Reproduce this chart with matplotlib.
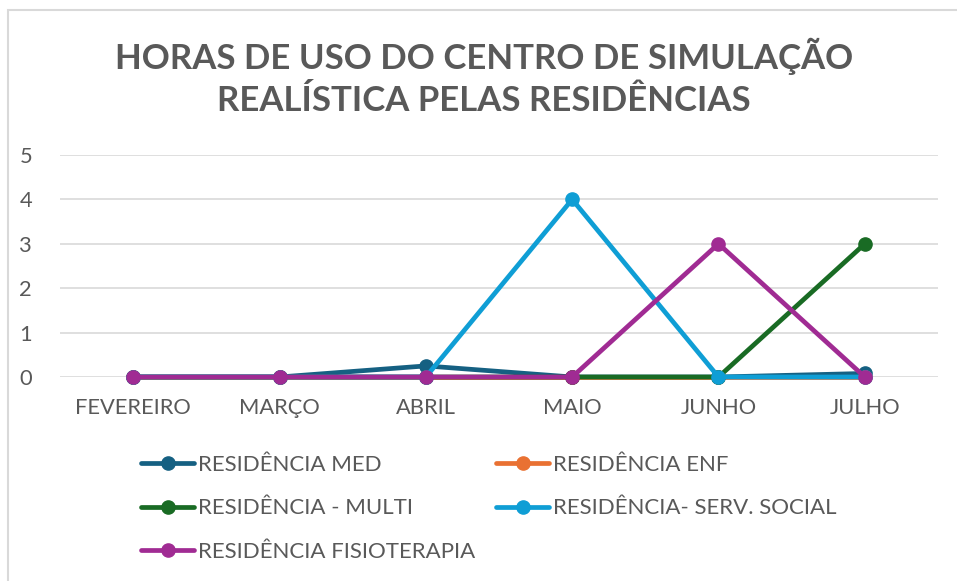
import matplotlib
matplotlib.use('Agg')
import matplotlib.pyplot as plt
from matplotlib.patches import Rectangle

meses = ['FEVEREIRO', 'MARÇO', 'ABRIL', 'MAIO', 'JUNHO', 'JULHO']
med = [0, 0, 0.25, 0, 0, 0.08]
enf = [0, 0, 0, 0, 0, 0]
multi = [0, 0, 0, 0, 0, 3]
serv_social = [0, 0, 0, 4, 0, 0]
fisio = [0, 0, 0, 0, 3, 0]

series = [
    ('RESIDÊNCIA MED', med, '#156082'),
    ('RESIDÊNCIA ENF', enf, '#E97132'),
    ('RESIDÊNCIA - MULTI', multi, '#196B24'),
    ('RESIDÊNCIA- SERV. SOCIAL', serv_social, '#0F9ED5'),
    ('RESIDÊNCIA FISIOTERAPIA', fisio, '#A02B93'),
]

cinza = '#595959'
plt.rcParams['font.family'] = ['Lato', 'DejaVu Sans']

fig = plt.figure(figsize=(9.57, 5.81), dpi=100)
W, H = 957, 581

# moldura do grafico
fig.patches.append(Rectangle((8 / W, -0.01), 1, 1.01 - 10 / H, transform=fig.transFigure,
                             fill=False, edgecolor='#d9d9d9', linewidth=1.5))

ax = fig.add_axes([60 / W, 1 - 377 / H, (938 - 60) / W, (377 - 155) / H])
x = range(len(meses))
linhas = []
for nome, vals, cor in series:
    l, = ax.plot(x, vals, color=cor, linewidth=3.4, marker='o', markersize=9.5,
                 label=nome, solid_capstyle='round', clip_on=False)
    linhas.append(l)

ax.set_xlim(-0.5, len(meses) - 0.5)
ax.set_ylim(0, 5)
ax.set_yticks(range(6))
ax.set_xticks(list(x))
ax.set_xticklabels(meses)
ax.grid(axis='y', color='#d9d9d9', linewidth=1.2)
ax.set_axisbelow(True)
for s in ax.spines.values():
    s.set_visible(False)
ax.tick_params(length=0, labelsize=15.75, labelcolor=cinza)
ax.tick_params(axis='y', pad=20)
ax.tick_params(axis='x', pad=15)

fig.text(484 / W, 1 - 77 / H, 'HORAS DE USO DO CENTRO DE SIMULAÇÃO\nREALÍSTICA PELAS RESIDÊNCIAS',
         ha='center', va='center', fontsize=25, fontweight='bold', color=cinza,
         linespacing=1.38)

# ordem por linhas: matplotlib preenche a legenda por colunas
ordem = [0, 2, 4, 1, 3]
leg = fig.legend([linhas[i] for i in ordem], [series[i][0] for i in ordem],
                 loc='upper left', bbox_to_anchor=(121 / W, 1 - 435 / H), ncol=2,
                 frameon=False, fontsize=16, handlelength=2.4, handletextpad=0.15,
                 columnspacing=0.95, labelspacing=1.05, labelcolor=cinza)

fig.savefig('out.png', dpi=100)
